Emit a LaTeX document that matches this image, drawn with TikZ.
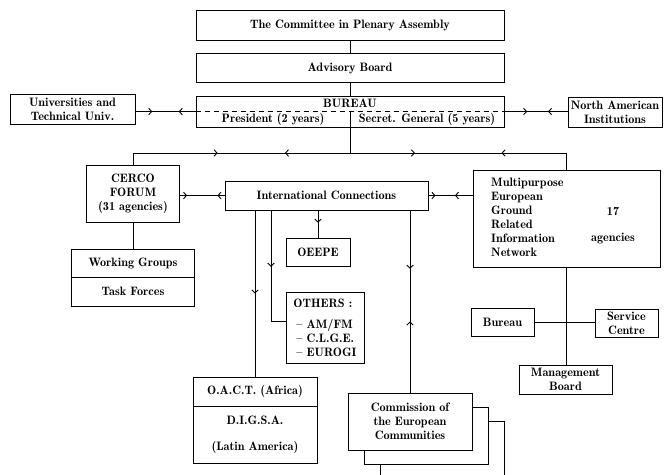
\documentclass[tikz,border=0pt]{standalone}
\usetikzlibrary{decorations.markings,arrows.meta}
\newcommand\diafont{\fontsize{12.2}{14}\fontseries{b}\selectfont}
\tikzset{
  ln/.style={line width=0.9pt},
  box/.style={draw, line width=1pt, inner sep=0pt, align=center, font=\diafont, fill=white},
  txt/.style={inner sep=0pt, font=\diafont},
  twoway/.style 2 args={postaction={decorate}, decoration={markings,
     mark=at position #1 with {\arrow{Straight Barb[length=3pt,width=6.5pt]}},
     mark=at position #2 with {\arrowreversed{Straight Barb[length=3pt,width=6.5pt]}}}},
  onearrow/.style={postaction={decorate}, decoration={markings,
     mark=at position #1 with {\arrow{Straight Barb[length=3pt,width=6.5pt]}}}},
}
\begin{document}
\begin{tikzpicture}[x=1pt,y=-1pt]
\useasboundingbox[fill=white] (0,0) rectangle (668,474);

% top chain
\node[box, minimum width=308, minimum height=30] (cpa) at (350,25) {The Committee in Plenary Assembly};
\node[box, minimum width=308, minimum height=29] (adv) at (350,68) {Advisory Board};
\node[box, minimum width=308, minimum height=31] (bur) at (350,111.5) {};
\node[txt] (burt) at (350,103) {BUREAU};
\node[txt] (pres) at (273,119.5) {President (2 years)};
\node[txt] (sec) at (427,119.5) {Secret. General (5 years)};
\draw[ln, dash pattern=on 5pt off 4pt] (bur.west) -- (bur.east);
\draw[ln] (bur.center) -- (bur.south);
\draw[ln] (cpa.south) -- (adv.north);
\draw[ln] (adv.south) -- (bur.north);

\node[box, minimum width=125, minimum height=30] (univ) at (72.5,109) {Universities and\\Technical Univ.};
\node[box, minimum width=94, minimum height=30] (nai) at (615,112) {North American\\Institutions};
\draw[ln, twoway={0.28}{0.72}] (univ.east |- bur.west) -- (bur.west);
\draw[ln, twoway={0.36}{0.69}] (bur.east) -- (bur.east -| nai.west);

% distribution line
\coordinate (jn) at (350,153);
\node[box, minimum width=93, minimum height=57] (cerco) at (133,193.5) {CERCO\\FORUM\\(31 agencies)};
\node[box, minimum width=187, minimum height=97] (multi) at (566.5,218.5) {};
\node[txt, align=left, anchor=north west] (mtxt) at (491,178.3) {Multipurpose\\European\\Ground\\Related\\Information\\Network};
\node[txt] (n17) at (613,211) {17};
\node[txt] (nag) at (613,239) {agencies};
\draw[ln] (bur.south) -- (jn);
\draw[ln] (cerco.north) -- (cerco.north |- jn);
\draw[ln, twoway={0.39}{0.70}] (cerco.north |- jn) -- (jn);
\draw[ln, twoway={0.30}{0.70}] (jn) -- (jn -| multi.north);
\draw[ln] (jn -| multi.north) -- (multi.north);

% international connections
\node[box, minimum width=203, minimum height=29] (ic) at (326.5,195.5) {International Connections};
\draw[ln, twoway={0.16}{0.84}] (cerco.east |- ic.west) -- (ic.west);
\draw[ln, twoway={0.16}{0.60}] (ic.east) -- (ic.east -| multi.west);

\node[box, minimum width=123, minimum height=28] (wg) at (133,263) {Working Groups};
\node[box, minimum width=123, minimum height=29] (tf) at (133,291.5) {Task Forces};
\draw[ln] (cerco.south) -- (wg.north);

\node[box, minimum width=64, minimum height=28] (oeepe) at (318,252) {OEEPE};
\node[box, minimum width=78, minimum height=71, align=left] (others) at (325,327.5)
  {OTHERS :\\[7pt]\hspace{3pt}-- AM/FM\\\hspace{3pt}-- C.L.G.E.\\\hspace{3pt}-- EUROGI};
\node[box, minimum width=124, minimum height=29] (oact) at (255,391.5) {O.A.C.T. (Africa)};
\node[box, minimum width=124, minimum height=57] (digsa) at (255,434.5) {D.I.G.S.A.\\[12pt](Latin America)};

% commission stack
\draw[line width=1pt, fill=white] (380,421) rectangle (504,480);
\draw[line width=1pt, fill=white] (364,407) rectangle (488,464);
\node[box, minimum width=124, minimum height=57] (com) at (410,421.5) {Commission of\\the European\\Communities};

\coordinate (c2) at (271,210);
\draw[ln, onearrow=0.5] (ic.south -| oact.north) -- (oact.north);
\draw[ln, onearrow=0.45] (c2 |- ic.south) |- ([yshift=6.5pt]others.west);
\draw[ln, onearrow=0.45] (ic.south -| oeepe.north) -- (oeepe.north);
\draw[ln, twoway={0.32}{0.61}] (ic.south -| com.north) -- (com.north);

% management side
\node[box, minimum width=63, minimum height=28] (mbur) at (502.5,322) {Bureau};
\node[box, minimum width=63, minimum height=28] (svc) at (626.5,323) {Service\\Centre};
\node[box, minimum width=93, minimum height=29] (mgmt) at (565.5,379.5) {Management\\Board};
\draw[ln] (multi.south) -- (multi.south |- mgmt.north);
\draw[ln] (mbur.east) -- (mbur.east -| svc.west);
\end{tikzpicture}
\end{document}
